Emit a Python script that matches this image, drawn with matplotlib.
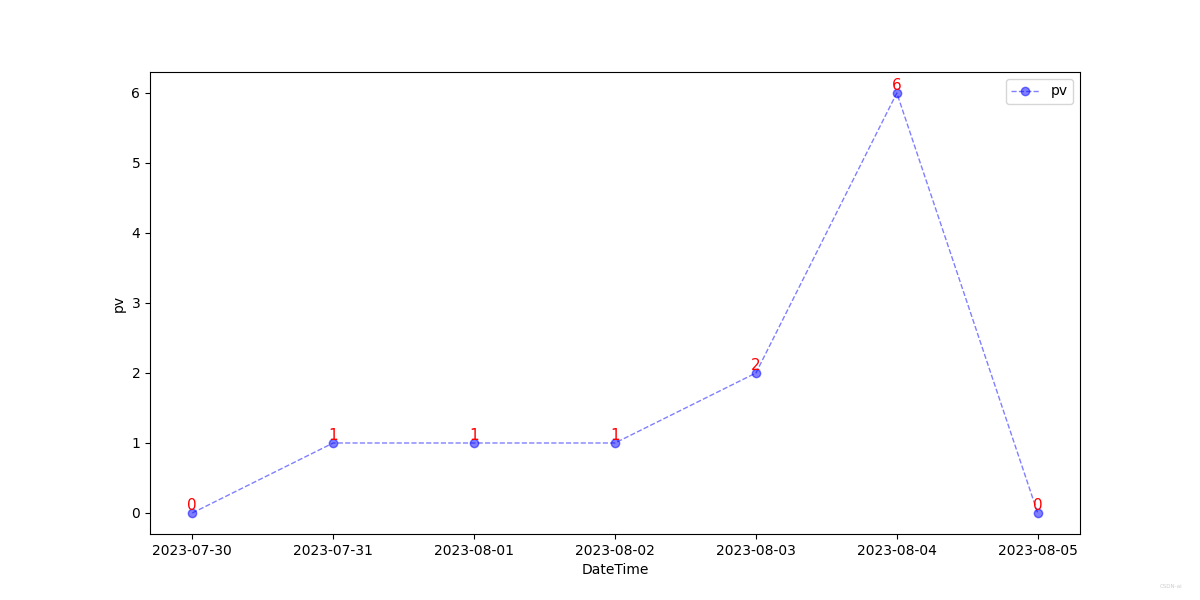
import matplotlib.pyplot as plt

dates = ["2023-07-30", "2023-07-31", "2023-08-01", "2023-08-02",
         "2023-08-03", "2023-08-04", "2023-08-05"]
pv = [0, 1, 1, 1, 2, 6, 0]

fig = plt.figure(figsize=(12, 6), dpi=100)
plt.plot(dates, pv, color='blue', alpha=0.5, linestyle='--', linewidth=1,
         marker='o', label='pv')
for x, y in zip(dates, pv):
    plt.text(x, y, str(y), color='red', ha='center', va='bottom', fontsize=11)
plt.xlabel('DateTime')
plt.ylabel('pv')
plt.legend()
fig.text(0.985, 0.02, 'CSDN-ai', color='#cccccc', fontsize=4, ha='right')
plt.savefig('out.png')
